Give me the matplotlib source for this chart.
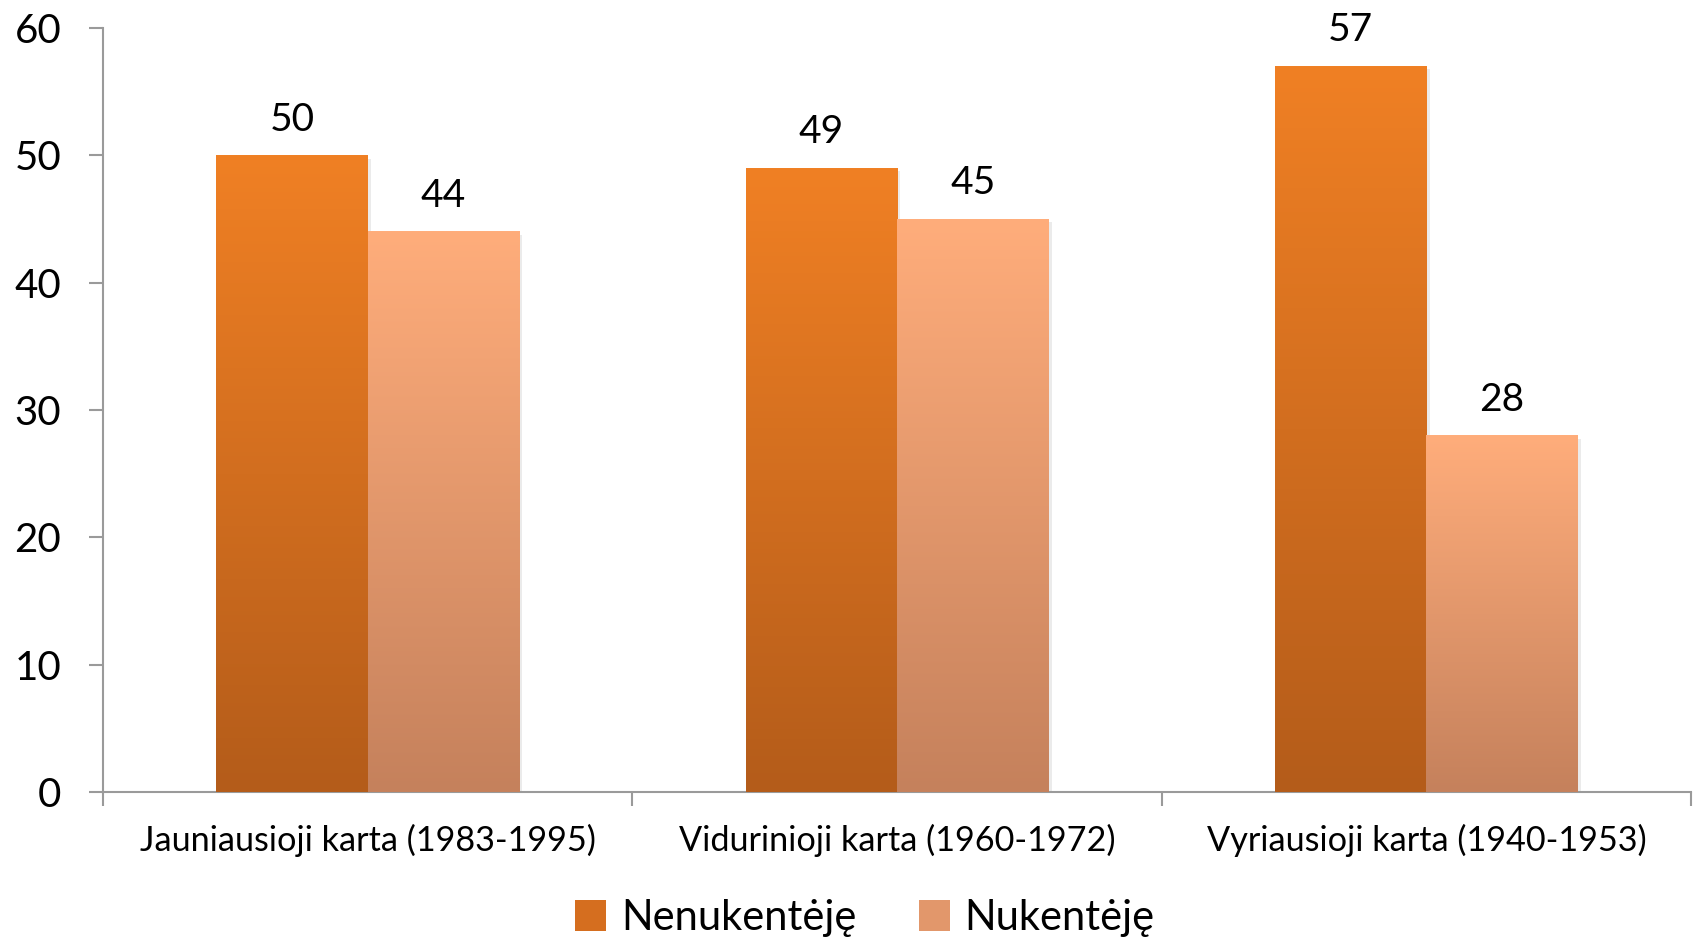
import matplotlib
matplotlib.use("Agg")
import matplotlib.pyplot as plt
import numpy as np
from matplotlib.colors import LinearSegmentedColormap
from matplotlib.patches import Patch

categories = ["Jauniausioji karta (1983-1995)", "Vidurinioji karta (1960-1972)", "Vyriausioji karta (1940-1953)"]
series_names = ["Nenukentėję", "Nukentėję"]
nenukenteje = [50, 49, 57]
nukenteje = [44, 45, 28]
yticks = [0, 10, 20, 30, 40, 50, 60]

plt.rcParams['font.family'] = ['Lato', 'DejaVu Sans']

fig = plt.figure(figsize=(16.98, 9.39), dpi=100)
ax = fig.add_axes([103/1698, 1-792/939, (1691-103)/1698, (792-28)/939])

x = np.arange(len(categories))
w = 0.286
grads = [("#F08024", "#B45C1A"), ("#FFAD7B", "#C5815C")]
for i, (vals, (top, bot)) in enumerate(zip([nenukenteje, nukenteje], grads)):
    bars = ax.bar(x + (i - 0.5) * w, vals, width=w, color="none", edgecolor="none", zorder=2)
    cmap = LinearSegmentedColormap.from_list("g%d" % i, [bot, top])
    for b in bars:
        x0, y0, bw, bh = b.get_x(), b.get_y(), b.get_width(), b.get_height()
        # subtle shadow
        ax.bar(x0 + bw/2 + 0.006, bh, width=bw, bottom=-0.25, color="#000000", alpha=0.08, zorder=1, edgecolor="none")
        grad = np.linspace(0, 1, 256).reshape(-1, 1)
        ax.imshow(grad, extent=(x0, x0 + bw, y0, y0 + bh), origin="lower", cmap=cmap,
                  aspect="auto", zorder=3)
        ax.text(x0 + bw/2, bh + 1.4, f"{bh:g}", ha="center", va="bottom", fontsize=28, color="#000000")

ax.set_xlim(-0.5, 2.5)
ax.set_ylim(0, 60)
ax.set_yticks(yticks)
ax.set_yticklabels([str(t) for t in yticks])
ax.set_xticks(x)
ax.set_xticklabels(categories)
ax.set_xticks([-0.5, 0.5, 1.5, 2.5], minor=True)

for s in ["top", "right"]:
    ax.spines[s].set_visible(False)
for s in ["left", "bottom"]:
    ax.spines[s].set_color("#9a9a9a")
    ax.spines[s].set_linewidth(1.5)

ax.tick_params(axis="y", which="major", direction="out", length=10, width=1.5, color="#9a9a9a",
               labelsize=29, pad=20)
ax.tick_params(axis="x", which="major", length=0, labelsize=24.7, pad=23)
ax.tick_params(axis="x", which="minor", direction="out", length=10, width=1.5, color="#9a9a9a")

handles = [Patch(facecolor="#D56E1F", edgecolor="none"), Patch(facecolor="#E2976B", edgecolor="none")]
fig.legend(handles, series_names, loc="center", bbox_to_anchor=(865/1698, 1-918/939), ncol=2,
           frameon=False, fontsize=30, handlelength=0.75, handleheight=0.75, handletextpad=0.35,
           columnspacing=1.5)

fig.savefig("out.png", dpi=100)
